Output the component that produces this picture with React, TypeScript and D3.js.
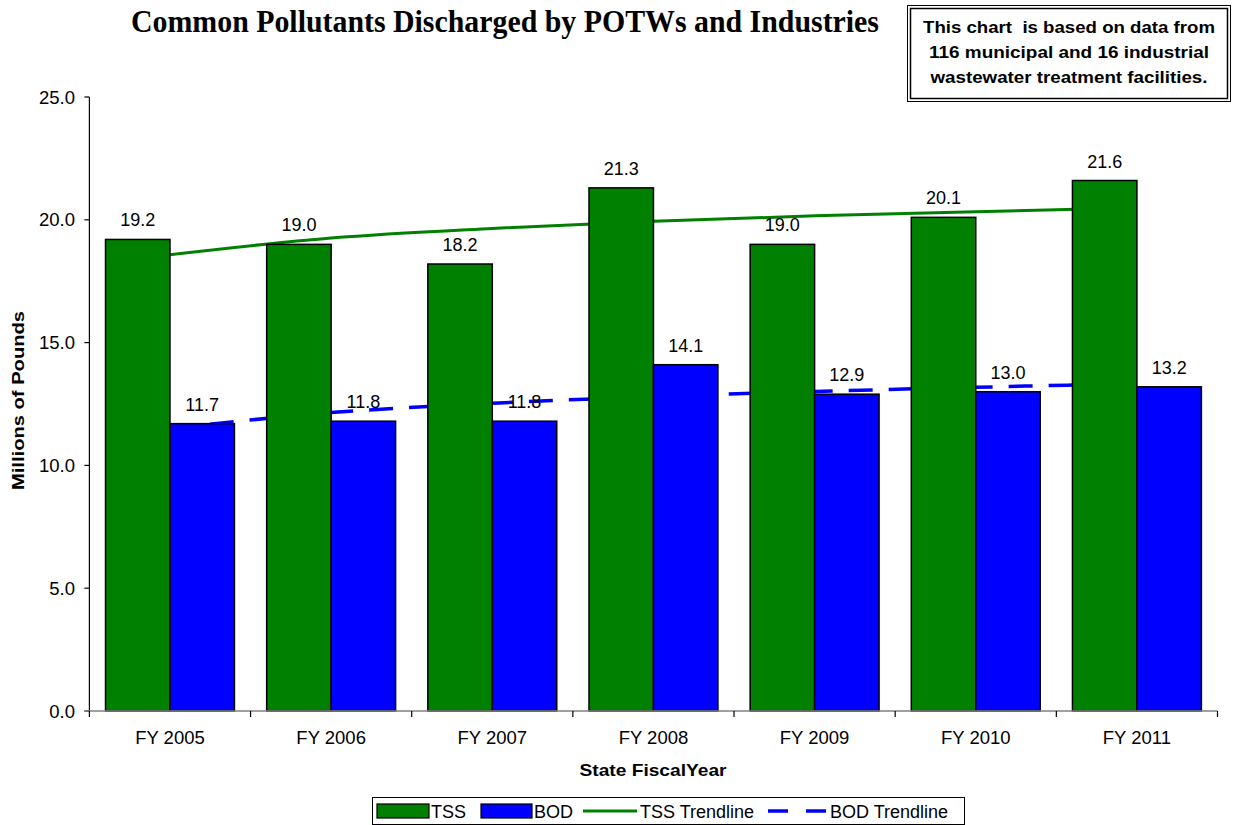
import React from "react";
import * as d3 from "d3";

const categories = ["FY 2005", "FY 2006", "FY 2007", "FY 2008", "FY 2009", "FY 2010", "FY 2011"];
const tssValues = [19.2, 19.0, 18.2, 21.3, 19.0, 20.1, 21.6];
const bodValues = [11.7, 11.8, 11.8, 14.1, 12.9, 13.0, 13.2];
// trendline values read at each category centre
const tssTrend = [18.58, 19.26, 19.65, 19.94, 20.16, 20.33, 20.49];
const bodTrend = [11.5, 12.15, 12.53, 12.8, 13.01, 13.18, 13.33];
const yTicks = [0, 5, 10, 15, 20, 25];
const noteLines = [
  "This chart  is based on data from",
  "116 municipal and 16 industrial",
  "wastewater treatment facilities.",
];
const noteWidths = [292, 280, 277];

const W = 1233;
const H = 825;
const left = 89.4;
const right = 1217.5;
const top = 97;
const bottom = 711;

export default function App() {
  const x = d3.scaleBand<string>().domain(categories).range([left, right]).paddingInner(0).paddingOuter(0);
  const y = d3.scaleLinear().domain([0, 25]).range([bottom, top]);
  const bw = x.bandwidth();
  const barW = bw * 0.4;
  const gap = (bw - 2 * barW) / 2;
  const cx = (c: string) => (x(c) as number) + bw / 2;

  const line = d3
    .line<number>()
    .x((_, i) => cx(categories[i]))
    .y((v) => y(v))
    .curve(d3.curveMonotoneX);

  const font = "Arial, 'Liberation Sans', sans-serif";

  return (
    <svg width={W} height={H} style={{ position: "absolute", left: 0, top: 0, background: "#fff" }} fontFamily={font}>
      <rect x={0} y={0} width={W} height={H} fill="#fff" />
      {/* title */}
      <text
        x={505}
        y={32}
        textAnchor="middle"
        fontFamily="'Liberation Serif', 'Times New Roman', serif"
        fontWeight="bold"
        fontSize={31}
        textLength={748}
        lengthAdjust="spacingAndGlyphs"
      >
        Common Pollutants Discharged by POTWs and Industries
      </text>

      {/* note box */}
      <rect x={907.5} y={5.5} width={323} height={96} fill="#fff" stroke="#000" strokeWidth={1} />
      <rect x={910.5} y={8.5} width={317} height={90} fill="none" stroke="#000" strokeWidth={1.5} />
      {noteLines.map((t, i) => (
        <text
          key={i}
          x={1069}
          y={33 + i * 25}
          textAnchor="middle"
          fontWeight="bold"
          fontSize={16.5}
          textLength={noteWidths[i]}
          lengthAdjust="spacingAndGlyphs"
          xmlSpace="preserve"
          style={{ whiteSpace: "pre" }}
        >
          {t}
        </text>
      ))}

      {/* trendlines behind bars */}
      <path d={line(tssTrend) || ""} fill="none" stroke="#008000" strokeWidth={3} />
      <path d={line(bodTrend) || ""} fill="none" stroke="#0000ff" strokeWidth={3.5} strokeDasharray="24,16" />

      {/* bars */}
      {categories.map((c, i) => {
        const x0 = (x(c) as number) + gap;
        return (
          <g key={c}>
            <rect x={x0} y={y(tssValues[i])} width={barW} height={bottom - y(tssValues[i])} fill="#008000" stroke="#000" strokeWidth={1.5} />
            <rect x={x0 + barW} y={y(bodValues[i])} width={barW} height={bottom - y(bodValues[i])} fill="#0000ff" stroke="#000" strokeWidth={1.5} />
            <text x={x0 + barW / 2} y={y(tssValues[i]) - 13} textAnchor="middle" fontSize={18} fill="#000">
              {tssValues[i].toFixed(1)}
            </text>
            <text x={x0 + barW * 1.5} y={y(bodValues[i]) - 13} textAnchor="middle" fontSize={18} fill="#000">
              {bodValues[i].toFixed(1)}
            </text>
          </g>
        );
      })}

      {/* y axis */}
      <line x1={left} x2={left} y1={top} y2={bottom} stroke="#000" strokeWidth={1.2} />
      {yTicks.map((t) => (
        <g key={t}>
          <line x1={left - 5} x2={left} y1={y(t)} y2={y(t)} stroke="#000" strokeWidth={1.2} />
          <text x={75} y={y(t) + 6.5} textAnchor="end" fontSize={18.5}>
            {t.toFixed(1)}
          </text>
        </g>
      ))}

      {/* x axis */}
      <line x1={left - 5} x2={right} y1={bottom} y2={bottom} stroke="#808080" strokeWidth={1.5} />
      {d3.range(categories.length + 1).map((i) => {
        const xx = left + i * bw;
        return <line key={i} x1={xx} x2={xx} y1={bottom} y2={bottom + 6} stroke="#000" strokeWidth={1.2} />;
      })}
      {categories.map((c) => (
        <text key={c} x={cx(c)} y={744} textAnchor="middle" fontSize={18.5}>
          {c}
        </text>
      ))}

      {/* axis titles */}
      <text x={653} y={776} textAnchor="middle" fontWeight="bold" fontSize={17} textLength={147} lengthAdjust="spacingAndGlyphs">
        State FiscalYear
      </text>
      <text
        transform="translate(24,400.5) rotate(-90)"
        textAnchor="middle"
        fontWeight="bold"
        fontSize={17}
        textLength={179}
        lengthAdjust="spacingAndGlyphs"
      >
        Millions of Pounds
      </text>

      {/* legend */}
      <rect x={372.5} y={797.5} width={592} height={27} fill="#fff" stroke="#000" strokeWidth={1} />
      <rect x={377} y={804} width={52} height={14} fill="#008000" stroke="#000" strokeWidth={1.2} />
      <text x={431} y={818} fontSize={18}>TSS</text>
      <rect x={481} y={804} width={51} height={14} fill="#0000ff" stroke="#000" strokeWidth={1.2} />
      <text x={534} y={818} fontSize={18}>BOD</text>
      <line x1={583} x2={637} y1={811} y2={811} stroke="#008000" strokeWidth={3} />
      <text x={640} y={818} fontSize={18}>TSS Trendline</text>
      <line x1={768} x2={826} y1={811} y2={811} stroke="#0000ff" strokeWidth={3.5} strokeDasharray="20,18" />
      <text x={830} y={818} fontSize={18}>BOD Trendline</text>
    </svg>
  );
}
